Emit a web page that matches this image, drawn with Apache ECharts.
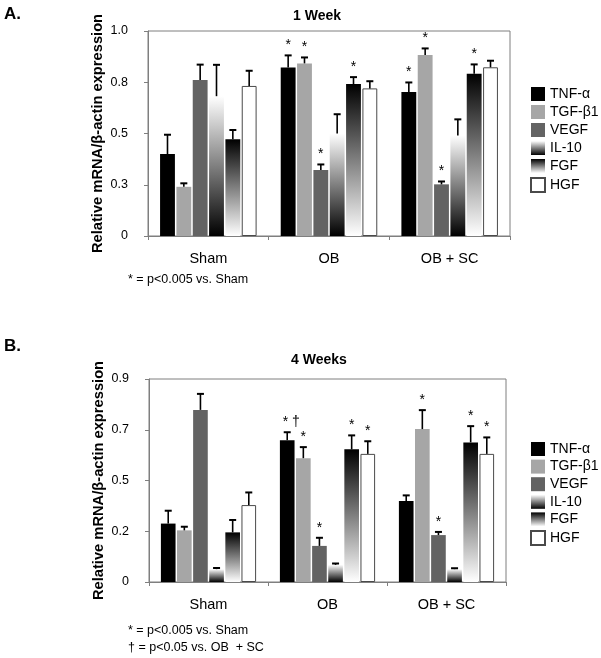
<!DOCTYPE html>
<html>
<head>
<meta charset="utf-8">
<script src="https://cdn.jsdelivr.net/npm/echarts@6/dist/echarts.min.js"></script>
<style>
  html, body { margin: 0; padding: 0; background: #ffffff; }
  #chart { width: 601px; height: 658px; }
</style>
</head>
<body>
<div id="chart"></div>
<script>
// ---------- data ----------
const groups = ['Sham', 'OB', 'OB + SC'];
const markerNames = ['TNF-α', 'TGF-β1', 'VEGF', 'IL-10', 'FGF', 'HGF'];

const yTicksWeek1 = ['0', '0.3', '0.5', '0.8', '1.0'];
const yTicksWeek4 = ['0', '0.2', '0.5', '0.7', '0.9'];

// 1 week: means and upper ends of error bars (Sham, OB, OB + SC)
const w1_TNF = [0.40, 0.822, 0.702];
const w1_TNF_up = [0.494, 0.881, 0.749];
const w1_TGF = [0.24, 0.842, 0.883];
const w1_TGF_up = [0.257, 0.871, 0.915];
const w1_VEGF = [0.761, 0.322, 0.252];
const w1_VEGF_up = [0.836, 0.349, 0.266];
const w1_IL10 = [0.682, 0.50, 0.49];
const w1_IL10_up = [0.835, 0.594, 0.569];
const w1_FGF = [0.472, 0.741, 0.792];
const w1_FGF_up = [0.517, 0.775, 0.837];
const w1_HGF = [0.732, 0.72, 0.823];
const w1_HGF_up = [0.806, 0.755, 0.855];

// 4 weeks
const w4_TNF = [0.259, 0.629, 0.359];
const w4_TNF_up = [0.316, 0.664, 0.384];
const w4_TGF = [0.229, 0.549, 0.678];
const w4_TGF_up = [0.245, 0.598, 0.762];
const w4_VEGF = [0.763, 0.16, 0.208];
const w4_VEGF_up = [0.834, 0.196, 0.222];
const w4_IL10 = [0.057, 0.076, 0.057];
const w4_IL10_up = [0.062, 0.082, 0.061];
const w4_FGF = [0.22, 0.588, 0.619];
const w4_FGF_up = [0.275, 0.65, 0.691];
const w4_HGF = [0.341, 0.568, 0.568];
const w4_HGF_up = [0.397, 0.624, 0.641];

// significance marks above error bars
const w1_marks = [
  ['', '*', '*'], ['', '*', '*'], ['', '*', '*'],
  ['', '', ''], ['', '*', '*'], ['', '', '']
];
const w4_marks = [
  ['', '* †', ''], ['', '*', '*'], ['', '*', '*'],
  ['', '', ''], ['', '*', '*'], ['', '*', '*']
];

// ---------- styling ----------
const FONT = 'Liberation Sans, Arial, Helvetica, sans-serif';
const AXIS_GRAY = '#7f7f7f';
const CAT_GAP = 0.2, BAR_GAP = 0.1;
const N = markerNames.length;

const fills = [
  { color: '#000000' },
  { color: '#a6a6a6' },
  { color: '#636363' },
  { color: new echarts.graphic.LinearGradient(0, 0, 0, 1, [
      { offset: 0, color: '#ffffff' }, { offset: 1, color: '#000000' }]) },
  { color: new echarts.graphic.LinearGradient(0, 0, 0, 1, [
      { offset: 0, color: '#000000' }, { offset: 1, color: '#ffffff' }]) },
  { color: '#ffffff', borderColor: '#4a4a4a', borderWidth: 1 }
];

function buildPanel(idx, means, ups, marks) {
  const series = [];
  means.forEach((vals, si) => {
    series.push({
      type: 'bar', name: markerNames[si],
      xAxisIndex: idx, yAxisIndex: idx,
      data: vals,
      barGap: (BAR_GAP * 100) + '%',
      barCategoryGap: (CAT_GAP * 100) + '%',
      itemStyle: fills[si],
      emphasis: { disabled: true },
      animation: false
    });
  });
  const errData = [];
  const errMarks = [];
  means.forEach((vals, si) => {
    vals.forEach((v, g) => {
      errData.push([g, v, ups[si][g], si]);
      errMarks.push(marks[si][g]);
    });
  });
  series.push({
    type: 'custom',
    xAxisIndex: idx, yAxisIndex: idx,
    z: 5,
    animation: false,
    silent: true,
    data: errData,
    renderItem: function (params, api) {
      const g = api.value(0), mean = api.value(1), up = api.value(2), si = api.value(3);
      const band = api.size([1, 0])[0];
      const usable = band * (1 - CAT_GAP);
      const bw = usable / (N + (N - 1) * BAR_GAP);
      const cx = api.coord([g, 0])[0] - usable / 2 + si * bw * (1 + BAR_GAP) + bw / 2;
      const y0 = api.coord([g, mean])[1];
      const y1 = api.coord([g, up])[1];
      const children = [
        { type: 'line', shape: { x1: cx, y1: y0, x2: cx, y2: y1 },
          style: { stroke: '#000', lineWidth: 1.6 } },
        { type: 'line', shape: { x1: cx - 3.5, y1: y1, x2: cx + 3.5, y2: y1 },
          style: { stroke: '#000', lineWidth: 2 } }
      ];
      const m = errMarks[params.dataIndex];
      if (m) {
        children.push({
          type: 'text',
          style: { text: m, x: cx + (m.length > 1 ? 4 : 0), y: y1 - 3,
                   align: 'center', verticalAlign: 'bottom',
                   font: '14px ' + FONT, fill: '#000' }
        });
      }
      return { type: 'group', children: children };
    }
  });
  return series;
}

const seriesA = buildPanel(0,
  [w1_TNF, w1_TGF, w1_VEGF, w1_IL10, w1_FGF, w1_HGF],
  [w1_TNF_up, w1_TGF_up, w1_VEGF_up, w1_IL10_up, w1_FGF_up, w1_HGF_up],
  w1_marks);
const seriesB = buildPanel(1,
  [w4_TNF, w4_TGF, w4_VEGF, w4_IL10, w4_FGF, w4_HGF],
  [w4_TNF_up, w4_TGF_up, w4_VEGF_up, w4_IL10_up, w4_FGF_up, w4_HGF_up],
  w4_marks);

function xAxisCfg(gi) {
  return {
    type: 'category', gridIndex: gi, data: groups,
    axisLine: { lineStyle: { color: AXIS_GRAY, width: 1 } },
    axisTick: { show: true, length: 4, lineStyle: { color: AXIS_GRAY } },
    axisLabel: { color: '#000', fontSize: 14.5, fontFamily: FONT, margin: 15 }
  };
}
function yAxisCfg(gi, max, interval, labels) {
  return {
    type: 'value', gridIndex: gi, min: 0, max: max, interval: interval,
    name: 'Relative mRNA/β-actin expression',
    nameLocation: 'middle', nameRotate: 90, nameGap: 43, nameMoveOverlap: false,
    nameTextStyle: { color: '#000', fontSize: 14.7, fontWeight: 'bold', fontFamily: FONT },
    axisLine: { show: true, lineStyle: { color: AXIS_GRAY, width: 1 } },
    axisTick: { show: true, length: 4, lineStyle: { color: AXIS_GRAY } },
    splitLine: { show: false },
    axisLabel: {
      color: '#000', fontSize: 12.5, fontFamily: FONT, margin: 20,
      formatter: function (v) { return labels[Math.round(v / interval)]; }
    }
  };
}

function txt(text, x, y, font, align) {
  return { type: 'text', x: x, y: y, silent: true,
    style: { text: text, font: font, fill: '#000', align: align || 'left', verticalAlign: 'middle',
             textAlign: align || 'left', textVerticalAlign: 'middle' } };
}

const option = {
  backgroundColor: '#ffffff',
  animation: false,
  textStyle: { fontFamily: FONT },
  grid: [
    { left: 148, right: 91, top: 31, bottom: 422, show: true, borderColor: AXIS_GRAY, borderWidth: 1, containLabel: false },
    { left: 149, right: 95, top: 379, bottom: 76, show: true, borderColor: AXIS_GRAY, borderWidth: 1, containLabel: false }
  ],
  xAxis: [xAxisCfg(0), xAxisCfg(1)],
  yAxis: [yAxisCfg(0, 1.0, 0.25, yTicksWeek1), yAxisCfg(1, 0.9, 0.225, yTicksWeek4)],
  legend: [
    { data: markerNames, orient: 'vertical', left: 525, top: 82,
      itemWidth: 14, itemHeight: 14, itemGap: 4, icon: 'rect', selectedMode: false,
      textStyle: { fontSize: 14, color: '#000', fontFamily: FONT, padding: [0, 0, 0, 0] } },
    { data: markerNames, orient: 'vertical', left: 525, top: 437,
      itemWidth: 14, itemHeight: 14, itemGap: 3.6, icon: 'rect', selectedMode: false,
      textStyle: { fontSize: 14, color: '#000', fontFamily: FONT, padding: [0, 0, 0, 0] } }
  ],
  graphic: [
    txt('A.', 4, 14, 'bold 17px ' + FONT),
    txt('B.', 4, 346, 'bold 17px ' + FONT),
    txt('1 Week', 317, 16, 'bold 14px ' + FONT, 'center'),
    txt('4 Weeks', 319, 360, 'bold 14px ' + FONT, 'center'),
    txt('* = p<0.005 vs. Sham', 128, 280, '12.5px ' + FONT),
    txt('* = p<0.005 vs. Sham', 128, 631, '12.5px ' + FONT),
    txt('† = p<0.05 vs. OB  + SC', 128, 648, '12.5px ' + FONT)
  ],
  series: seriesA.concat(seriesB)
};

const chart = echarts.init(document.getElementById('chart'), null, { renderer: 'canvas' });
chart.setOption(option);
</script>
</body>
</html>
